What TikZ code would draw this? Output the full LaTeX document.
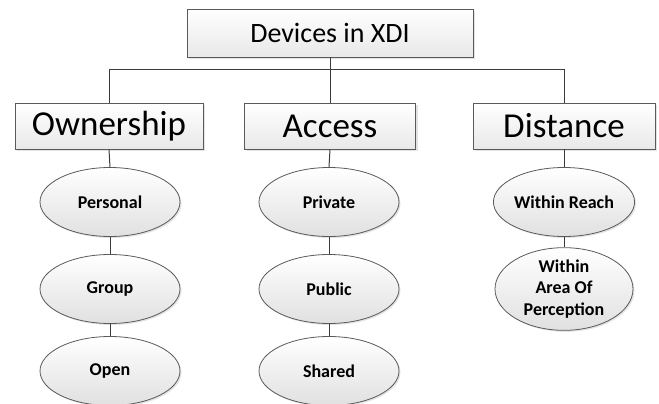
\documentclass[tikz,border=0pt]{standalone}
\usepackage{fontspec}
\setmainfont{Carlito}
\usetikzlibrary{shapes.geometric,shadows}
\definecolor{edgegray}{HTML}{5A5A5A}
\definecolor{linegray}{HTML}{3C3C3C}
\tikzset{
  catbox/.style={draw=edgegray, line width=0.8pt, rectangle, minimum height=46pt,
    top color=white, bottom color=black!9, inner sep=0pt,
    drop shadow={opacity=0.22, shadow xshift=2pt, shadow yshift=-2pt}},
  leaf/.style={draw=edgegray, line width=0.8pt, ellipse, minimum width=140pt, minimum height=69pt,
    top color=white, bottom color=black!12, inner sep=0pt, font=\fontsize{18}{21.5}\selectfont\bfseries,
    align=center,
    drop shadow={opacity=0.22, shadow xshift=1.5pt, shadow yshift=-1.5pt}},
  link/.style={draw=linegray, line width=1pt}
}
\begin{document}
\begin{tikzpicture}[x=1pt,y=-1pt]
\useasboundingbox (0,0) rectangle (659,404);
% root
\node[catbox, minimum width=286pt, minimum height=48pt, font=\fontsize{28}{30}\selectfont] (top) at (330,33) {Devices in XDI};
% categories
\node[catbox, minimum width=188pt, font=\fontsize{35}{38}\selectfont] (own) at (109,126) {Ownership};
\node[catbox, minimum width=171pt, font=\fontsize{35}{38}\selectfont] (acc) at (330,126) {Access};
\node[catbox, minimum width=182pt, font=\fontsize{35}{38}\selectfont] (dist) at (564,126) {Distance};
\coordinate (bus) at (0,70);
% leaves
\node[leaf] (pers) at (110,202) {Personal};
\node[leaf] (grp) at (110,289) {Group};
\node[leaf] (open) at (110,371) {Open};
\node[leaf] (priv) at (329,202) {Private};
\node[leaf] (pub) at (329,289) {Public};
\node[leaf] (shar) at (329,371) {Shared};
\node[leaf, minimum width=138pt] (reach) at (564,202) {Within Reach};
\node[leaf, minimum width=138pt] (area) at (564,289) {Within\\Area Of\\Perception};
% tree connectors
\draw[link] (top.south) -- (acc.north);
\draw[link] (own.north) -- (own.north |- bus) -- (dist.north |- bus) -- (dist.north);
\draw[link] (own.south) -- (pers.north);
\draw[link] (pers.south) -- (grp.north);
\draw[link] (grp.south) -- (open.north);
\draw[link] (acc.south) -- (priv.north);
\draw[link] (priv.south) -- (pub.north);
\draw[link] (pub.south) -- (shar.north);
\draw[link] (dist.south) -- (reach.north);
\draw[link] (reach.south) -- (area.north);
\end{tikzpicture}
\end{document}
